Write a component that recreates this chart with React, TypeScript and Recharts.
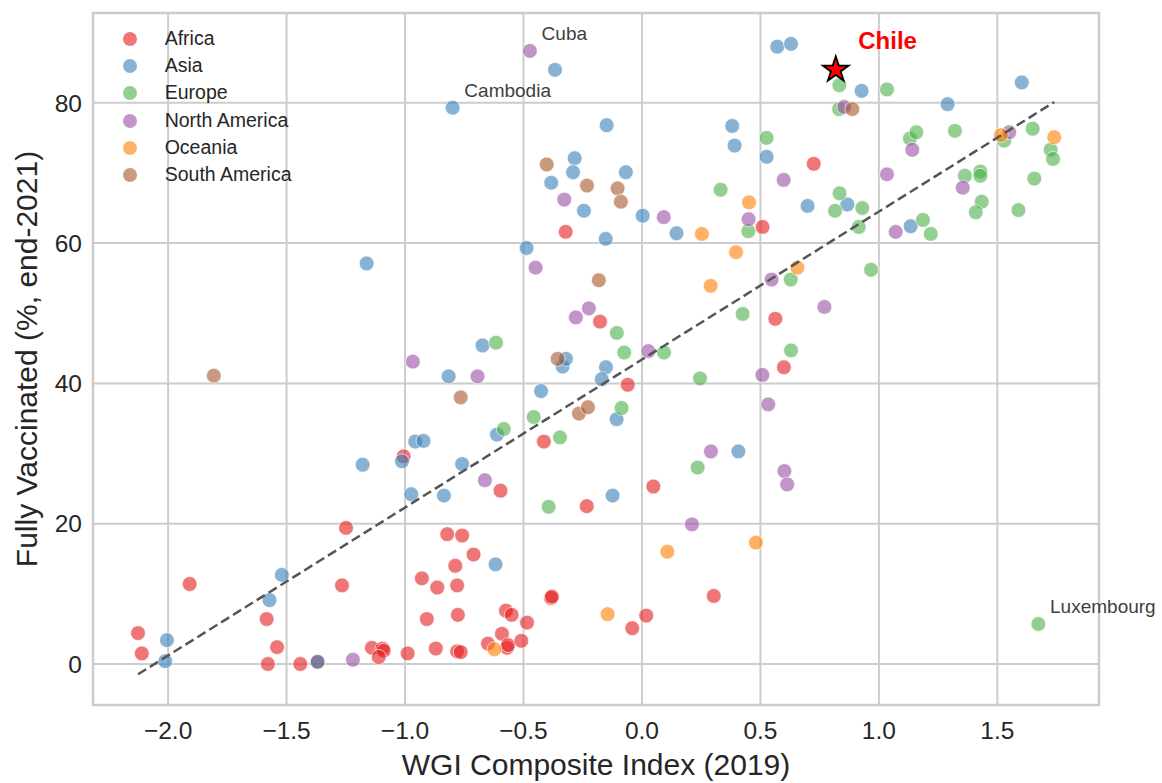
import React from 'react';
import { ScatterChart, Scatter, XAxis, YAxis, CartesianGrid, ReferenceArea, Legend } from 'recharts';

const FONT = '"Liberation Sans", Arial, Helvetica, sans-serif';

type Pt = [number, number];

const africa: Pt[] = [
  [-2.127, 4.4], [-2.111, 1.5], [-1.909, 11.4], [-1.584, 6.4], [-1.54, 2.4], [-1.579, 0.0],
  [-1.442, 0.0], [-1.369, 0.3], [-1.266, 11.2], [-1.249, 19.4], [-1.14, 2.3], [-1.095, 2.2],
  [-1.09, 1.9], [-1.111, 1.0], [-0.989, 1.5], [-1.006, 29.6], [-0.929, 12.2], [-0.908, 6.4],
  [-0.87, 2.2], [-0.864, 10.9], [-0.822, 18.5], [-0.759, 18.3], [-0.711, 15.6], [-0.788, 14.0],
  [-0.78, 11.2], [-0.777, 7.0], [-0.78, 1.8], [-0.765, 1.7], [-0.597, 24.7], [-0.574, 7.6],
  [-0.55, 7.0], [-0.485, 5.9], [-0.591, 4.3], [-0.65, 2.9], [-0.57, 2.3], [-0.565, 2.7],
  [-0.509, 3.3], [-0.384, 9.4], [-0.38, 9.6], [-0.414, 31.7], [-0.233, 22.5], [-0.041, 5.1],
  [0.018, 6.9], [0.048, 25.3], [0.303, 9.7], [-0.06, 39.8], [-0.177, 48.8], [-0.322, 61.6],
  [0.509, 62.3], [0.725, 71.3], [0.563, 49.2], [0.599, 42.3],
];

const asia: Pt[] = [
  [-2.005, 3.4], [-2.012, 0.4], [-1.52, 12.7], [-1.572, 9.1], [-1.369, 0.3], [-1.179, 28.4],
  [-1.162, 57.1], [-1.013, 28.9], [-0.974, 24.2], [-0.957, 31.7], [-0.922, 31.8], [-0.836, 24.0],
  [-0.816, 41.0], [-0.799, 79.3], [-0.759, 28.5], [-0.673, 45.4], [-0.618, 14.2], [-0.612, 32.7],
  [-0.487, 59.3], [-0.426, 38.9], [-0.367, 84.7], [-0.383, 68.6], [-0.335, 42.4], [-0.321, 43.5],
  [-0.284, 72.1], [-0.291, 70.1], [-0.245, 64.6], [-0.153, 60.6], [-0.149, 76.8], [-0.152, 42.3],
  [-0.17, 40.6], [-0.124, 24.0], [-0.107, 34.9], [-0.068, 70.1], [0.003, 63.9], [0.146, 61.4],
  [0.381, 76.7], [0.391, 73.9], [0.407, 30.3], [0.526, 72.3], [0.571, 88.0], [0.629, 88.4],
  [0.699, 65.3], [0.867, 65.5], [0.927, 81.7], [1.134, 62.4], [1.29, 79.8], [1.603, 82.9],
];

const europe: Pt[] = [
  [-0.616, 45.8], [-0.583, 33.5], [-0.457, 35.2], [-0.394, 22.4], [-0.346, 32.3], [-0.106, 47.2],
  [-0.075, 44.4], [-0.086, 36.5], [0.093, 44.4], [0.245, 40.7], [0.235, 28.0], [0.332, 67.6],
  [0.425, 49.9], [0.449, 61.7], [0.526, 75.0], [0.628, 54.8], [0.629, 44.7], [0.833, 82.5],
  [0.832, 79.1], [0.834, 67.1], [0.815, 64.6], [0.93, 65.0], [0.915, 62.3], [0.967, 56.2],
  [1.034, 81.9], [1.131, 74.9], [1.158, 75.8], [1.186, 63.3], [1.219, 61.3], [1.321, 76.0],
  [1.363, 69.6], [1.428, 70.2], [1.428, 69.6], [1.434, 65.9], [1.409, 64.4], [1.529, 74.6],
  [1.589, 64.7], [1.649, 76.3], [1.656, 69.2], [1.725, 73.3], [1.735, 72.0], [1.673, 5.7],
];

const northAmerica: Pt[] = [
  [-1.22, 0.6], [-0.967, 43.1], [-0.694, 41.0], [-0.663, 26.2], [-0.473, 87.4], [-0.449, 56.5],
  [-0.328, 66.2], [-0.279, 49.4], [-0.224, 50.7], [0.027, 44.6], [0.092, 63.7], [0.211, 19.9],
  [0.291, 30.3], [0.45, 63.4], [0.508, 41.2], [0.533, 37.0], [0.547, 54.8], [0.598, 69.0],
  [0.601, 27.5], [0.613, 25.6], [0.77, 50.9], [0.854, 79.4], [1.034, 69.8], [1.071, 61.6],
  [1.141, 73.3], [1.354, 67.9], [1.55, 75.8],
];

const oceania: Pt[] = [
  [-0.623, 2.1], [-0.145, 7.1], [0.107, 16.0], [0.253, 61.3], [0.29, 53.9], [0.397, 58.7],
  [0.452, 65.8], [0.481, 17.3], [0.656, 56.5], [1.515, 75.4], [1.74, 75.1],
];

const southAmerica: Pt[] = [
  [-1.807, 41.1], [-0.765, 38.0], [-0.402, 71.2], [-0.356, 43.5], [-0.266, 35.7], [-0.228, 36.6],
  [-0.232, 68.2], [-0.182, 54.7], [-0.103, 67.8], [-0.089, 65.9], [0.888, 79.1],
];

const continents = ['Africa', 'Asia', 'Europe', 'North America', 'Oceania', 'South America'];
const colors = ['#e41a1c', '#377eb8', '#4daf4a', '#984ea3', '#ff7f00', '#a65628'];
const seriesPoints = [africa, asia, europe, northAmerica, oceania, southAmerica];

const chilePoint: Pt = [0.818, 84.7];
const labelNames = ['Cuba', 'Cambodia', 'Luxembourg'];
const labelPoints: Pt[] = [[-0.473, 87.4], [-0.799, 79.3], [1.673, 5.7]];

const trendX = [-2.127, 1.74];
const trendY = [-1.47, 80.1];

const xTicks = [-2, -1.5, -1, -0.5, 0, 0.5, 1, 1.5];
const yTicks = [0, 20, 40, 60, 80];
const xDomain: [number, number] = [-2.317, 1.929];
const yDomain: [number, number] = [-5.85, 92.8];

const toRows = (pts: Pt[]) => pts.map(([x, y]) => ({ x, y }));

const makeDot = (color: string) => (props: any) => {
  const { cx, cy } = props;
  if (cx == null || cy == null) return <g />;
  return (
    <circle cx={cx} cy={cy} r={7.4} fill={color} fillOpacity={0.6}
      stroke="#ffffff" strokeOpacity={0.8} strokeWidth={0.8} />
  );
};

const StarShape = (props: any) => {
  const { cx, cy } = props;
  if (cx == null || cy == null) return <g />;
  const R = 13.5;
  const r = R * 0.382;
  const pts: string[] = [];
  for (let i = 0; i < 10; i++) {
    const a = (-90 + i * 36) * Math.PI / 180;
    const rad = i % 2 === 0 ? R : r;
    pts.push(`${cx + rad * Math.cos(a)},${cy + rad * Math.sin(a)}`);
  }
  return (
    <g>
      <polygon points={pts.join(' ')} fill="#ff0000" stroke="#000000" strokeWidth={1.8} strokeLinejoin="miter" />
      <text x={cx + 22.5} y={cy - 21} fill="#ff0000" fontFamily={FONT} fontSize={24} fontWeight="bold">Chile</text>
    </g>
  );
};

const LabelShape = (props: any) => {
  const { cx, cy, payload } = props;
  if (cx == null || cy == null) return <g />;
  return (
    <text x={cx + 11.7} y={cy - 10.7} fill="#404040" fontFamily={FONT} fontSize={19}>{payload?.name}</text>
  );
};

const fmtX = (v: number) => (v < 0 ? '\u2212' : '') + Math.abs(v).toFixed(1);

const XTick = (props: any) => {
  const { x, y, payload } = props;
  return (
    <text x={x} y={y + 34} textAnchor="middle" fill="#262626" fontFamily={FONT} fontSize={24.5}>
      {fmtX(payload.value)}
    </text>
  );
};

const YTick = (props: any) => {
  const { x, y, payload } = props;
  return (
    <text x={x - 11} y={y + 8.8} textAnchor="end" fill="#262626" fontFamily={FONT} fontSize={24.5}>
      {String(payload.value)}
    </text>
  );
};

const XTitle = (props: any) => {
  const vb = props.viewBox || { x: 93, y: 705, width: 1006, height: 78 };
  return (
    <text x={vb.x + vb.width / 2} y={vb.y + 70} textAnchor="middle" fill="#262626" fontFamily={FONT} fontSize={30}>
      WGI Composite Index (2019)
    </text>
  );
};

const YTitle = (props: any) => {
  const vb = props.viewBox || { x: 0, y: 13, width: 93, height: 692 };
  const x = vb.x + 37;
  const y = vb.y + vb.height / 2;
  return (
    <text x={x} y={y} transform={`rotate(-90, ${x}, ${y})`} textAnchor="middle" fill="#262626" fontFamily={FONT} fontSize={30}>
      Fully Vaccinated (%, end-2021)
    </text>
  );
};

const renderLegend = () => (
  <div style={{ fontFamily: FONT, fontSize: 19.5, color: '#262626', lineHeight: 1 }}>
    {continents.map((name, i) => (
      <div key={name} style={{ display: 'flex', alignItems: 'center', height: 27.3 }}>
        <svg width={16} height={16} style={{ display: 'block' }}>
          <circle cx={8} cy={8} r={7} fill={colors[i]} fillOpacity={0.6} />
        </svg>
        <span style={{ marginLeft: 26.7, whiteSpace: 'nowrap' }}>{name}</span>
      </div>
    ))}
  </div>
);

export default function App() {
  const trendRows = trendX.map((x, i) => ({ x, y: trendY[i] }));
  const labelRows = labelPoints.map(([x, y], i) => ({ x, y, name: labelNames[i] }));
  return (
    <div style={{ position: 'absolute', left: 0, top: 0, width: 1162, height: 783, background: '#ffffff' }}>
      <ScatterChart width={1162} height={783} margin={{ top: 13, right: 63, bottom: 0, left: 0 }}>
        <CartesianGrid stroke="#cccccc" strokeWidth={2} />
        <XAxis type="number" dataKey="x" domain={xDomain} ticks={xTicks} interval={0}
          height={78} tickLine={false} axisLine={false} tickSize={0} tickMargin={0} tick={<XTick />}
          label={<XTitle />} />
        <YAxis type="number" dataKey="y" domain={yDomain} ticks={yTicks} interval={0}
          width={93} tickLine={false} axisLine={false} tickSize={0} tickMargin={0} tick={<YTick />}
          label={<YTitle />} />
        <ReferenceArea x1={xDomain[0]} x2={xDomain[1]} y1={yDomain[0]} y2={yDomain[1]}
          fill="none" fillOpacity={0} stroke="#cccccc" strokeWidth={2.5} ifOverflow="visible" />
        {seriesPoints.map((pts, i) => (
          <Scatter key={continents[i]} name={continents[i]} data={toRows(pts)} fill={colors[i]}
            shape={makeDot(colors[i])} isAnimationActive={false} />
        ))}
        <Scatter name="trend" data={trendRows} legendType="none" isAnimationActive={false}
          line={{ stroke: '#555555', strokeWidth: 2.5, strokeDasharray: '9.5 4.5' }}
          shape={() => <g />} />
        <Scatter name="labels" data={labelRows} legendType="none" isAnimationActive={false} shape={LabelShape} />
        <Scatter name="Chile" data={[{ x: chilePoint[0], y: chilePoint[1] }]} legendType="none"
          isAnimationActive={false} shape={StarShape} />
        <Legend content={renderLegend} layout="vertical" align="center" verticalAlign="middle"
          wrapperStyle={{ left: 122, top: 25, width: 'auto' }} />
      </ScatterChart>
    </div>
  );
}
